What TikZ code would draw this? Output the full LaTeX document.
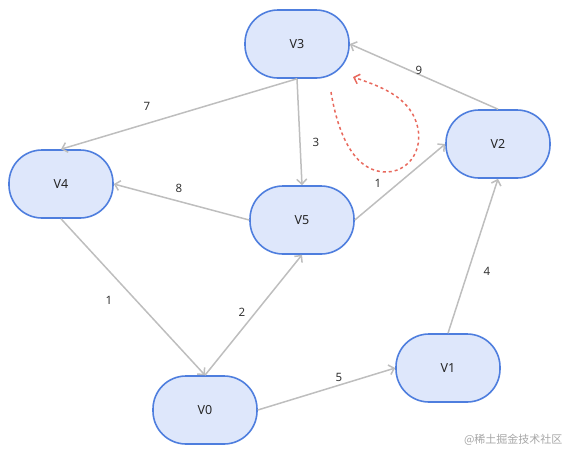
\documentclass[tikz,border=0pt]{standalone}
\usepackage{fontspec}
\setmainfont{Noto Sans}
\newfontfamily\cjkfont{Noto Sans CJK SC}
\usetikzlibrary{arrows.meta}
\definecolor{vblue}{RGB}{78,126,222}
\definecolor{vfill}{RGB}{222,231,251}
\definecolor{egray}{RGB}{190,190,190}
\definecolor{lred}{RGB}{232,104,92}

\begin{document}
\begin{tikzpicture}[x=1pt,y=-1pt,
  vert/.style={draw=vblue, fill=vfill, line width=1.6pt, rectangle,
    rounded corners=33pt, minimum width=104pt, minimum height=68pt,
    font=\fontsize{12.5}{14}\selectfont, text=black!85},
  edge/.style={draw=egray, line width=1.5pt,
    -{Straight Barb[length=5pt,width=10pt,line width=1.5pt]}},
  wt/.style={font=\fontsize{11.5}{13}\selectfont, text=black!80}]

\useasboundingbox (0,0) rectangle (568,458);

% vertices
\node[vert] (v3) at (297,44) {V3};
\node[vert] (v2) at (498,144) {V2};
\node[vert] (v4) at (61,184) {V4};
\node[vert] (v5) at (302,220) {V5};
\node[vert] (v1) at (448,368) {V1};
\node[vert] (v0) at (205,410) {V0};

% edges
\draw[edge] (v3.south) -- (v4.north);
\draw[edge] (v3.south) -- (v5.north);
\draw[edge] (v2.north) -- (v3.east);
\draw[edge] (v5.west) -- (v4.east);
\draw[edge] (v5.east) -- (v2.west);
\draw[edge] (v4.south) -- (v0.north);
\draw[edge] (v0.north) -- (v5.south);
\draw[edge] (v0.east) -- (v1.west);
\draw[edge] (v1.north) -- (v2.south);

% weights
\node[wt] (w7) at (147,106) {7};
\node[wt] (w3) at (316,142) {3};
\node[wt] (w9) at (419,70) {9};
\node[wt] (w8) at (179,188) {8};
\node[wt] (w1a) at (378,183) {1};
\node[wt] (w1b) at (109,300) {1};
\node[wt] (w2) at (242,312) {2};
\node[wt] (w5) at (339,377) {5};
\node[wt] (w4) at (487,271) {4};

% dashed loop
\coordinate (ls) at (331,92);
\coordinate (le) at (353,77);
\draw[lred, line width=1.5pt, dash pattern=on 3pt off 3pt,
  -{Straight Barb[length=5pt,width=10pt,line width=1.5pt]}]
  (ls) .. controls (338,135) and (355,173) .. (387,172)
       .. controls (414,171) and (428,140) .. (412,113)
       .. controls (400,93) and (376,85) .. (le);

\node[text=black!35, font=\cjkfont\fontsize{11}{13}\selectfont, anchor=east] (wm) at (566,440) {@稀土掘金技术社区};

\end{tikzpicture}
\end{document}
